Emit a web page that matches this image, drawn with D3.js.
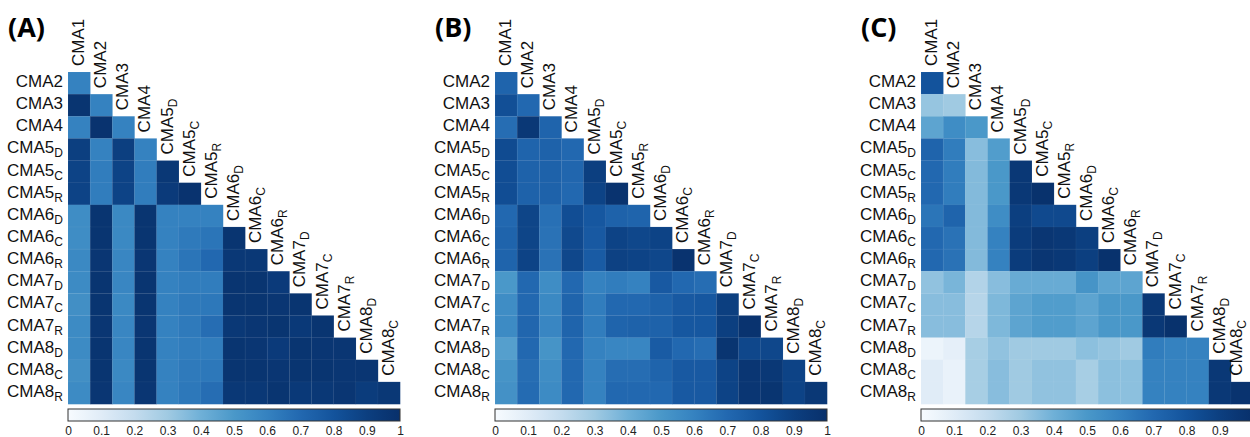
<!DOCTYPE html>
<html>
<head>
<meta charset="utf-8">
<script src="https://cdn.jsdelivr.net/npm/d3@7"></script>
<style>
  body { margin: 0; background: #fff; }
  svg { display: block; }
</style>
</head>
<body>
<div id="chart"></div>
<script>
// ---- datos ----
const labels = ["CMA1", "CMA2", "CMA3", "CMA4", "CMA5D", "CMA5C", "CMA5R",
  "CMA6D", "CMA6C", "CMA6R", "CMA7D", "CMA7C", "CMA7R", "CMA8D", "CMA8C", "CMA8R"];
const rowLabels = labels.slice(1);
const colLabels = labels.slice(0, -1);

const colorTicks = [0, 0.1, 0.2, 0.3, 0.4, 0.5, 0.6, 0.7, 0.8, 0.9, 1];

// fila i = rowLabels[i], columnas 0..i
const valuesA = [
  [0.60],
  [0.97, 0.60],
  [0.60, 0.98, 0.60],
  [0.90, 0.60, 0.90, 0.60],
  [0.88, 0.62, 0.88, 0.62, 0.95],
  [0.88, 0.62, 0.88, 0.62, 0.93, 0.98],
  [0.55, 0.97, 0.57, 0.97, 0.60, 0.60, 0.60],
  [0.55, 0.97, 0.57, 0.97, 0.60, 0.63, 0.65, 0.97],
  [0.57, 0.96, 0.58, 0.96, 0.60, 0.65, 0.70, 0.95, 0.95],
  [0.56, 0.97, 0.58, 0.97, 0.60, 0.62, 0.62, 0.97, 0.97, 0.93],
  [0.54, 0.97, 0.57, 0.97, 0.60, 0.63, 0.64, 0.97, 0.97, 0.96, 0.97],
  [0.56, 0.96, 0.58, 0.96, 0.60, 0.63, 0.68, 0.95, 0.96, 0.97, 0.94, 0.97],
  [0.56, 0.97, 0.58, 0.97, 0.60, 0.62, 0.62, 0.97, 0.96, 0.93, 0.97, 0.96, 0.96],
  [0.54, 0.97, 0.57, 0.97, 0.60, 0.63, 0.64, 0.97, 0.97, 0.96, 0.97, 0.97, 0.96, 0.96],
  [0.56, 0.96, 0.58, 0.96, 0.60, 0.64, 0.68, 0.95, 0.95, 0.97, 0.94, 0.95, 0.96, 0.92, 0.95]
];

const valuesB = [
  [0.72],
  [0.82, 0.70],
  [0.68, 0.95, 0.72],
  [0.84, 0.72, 0.73, 0.70],
  [0.83, 0.73, 0.73, 0.71, 0.90],
  [0.83, 0.73, 0.73, 0.70, 0.88, 0.98],
  [0.70, 0.87, 0.67, 0.83, 0.78, 0.73, 0.72],
  [0.72, 0.87, 0.66, 0.85, 0.77, 0.88, 0.86, 0.88],
  [0.72, 0.88, 0.66, 0.86, 0.76, 0.89, 0.88, 0.86, 0.98],
  [0.50, 0.70, 0.55, 0.70, 0.60, 0.62, 0.60, 0.77, 0.70, 0.68],
  [0.55, 0.70, 0.57, 0.72, 0.62, 0.70, 0.70, 0.73, 0.77, 0.78, 0.90],
  [0.56, 0.71, 0.58, 0.72, 0.62, 0.72, 0.73, 0.73, 0.78, 0.78, 0.90, 0.98],
  [0.47, 0.70, 0.52, 0.70, 0.60, 0.58, 0.58, 0.76, 0.70, 0.68, 0.97, 0.86, 0.86],
  [0.52, 0.68, 0.55, 0.70, 0.60, 0.68, 0.68, 0.72, 0.77, 0.77, 0.88, 0.96, 0.95, 0.88],
  [0.53, 0.69, 0.56, 0.70, 0.60, 0.70, 0.70, 0.70, 0.77, 0.77, 0.88, 0.96, 0.97, 0.88, 0.95]
];

const valuesC = [
  [0.80],
  [0.32, 0.30],
  [0.45, 0.55, 0.50],
  [0.72, 0.62, 0.35, 0.48],
  [0.70, 0.62, 0.36, 0.50, 0.95],
  [0.70, 0.62, 0.36, 0.50, 0.95, 0.99],
  [0.65, 0.72, 0.36, 0.55, 0.90, 0.85, 0.85],
  [0.70, 0.66, 0.36, 0.60, 0.92, 0.96, 0.95, 0.90],
  [0.70, 0.66, 0.36, 0.60, 0.92, 0.96, 0.95, 0.90, 0.99],
  [0.33, 0.38, 0.25, 0.35, 0.42, 0.42, 0.42, 0.52, 0.45, 0.45],
  [0.35, 0.35, 0.24, 0.37, 0.45, 0.48, 0.48, 0.45, 0.50, 0.50, 0.95],
  [0.35, 0.35, 0.24, 0.37, 0.45, 0.48, 0.48, 0.45, 0.50, 0.50, 0.95, 0.99],
  [0.05, 0.08, 0.28, 0.33, 0.30, 0.30, 0.30, 0.34, 0.32, 0.30, 0.62, 0.60, 0.60],
  [0.10, 0.06, 0.28, 0.35, 0.30, 0.33, 0.33, 0.28, 0.34, 0.34, 0.60, 0.60, 0.60, 0.95],
  [0.10, 0.06, 0.28, 0.35, 0.30, 0.33, 0.33, 0.28, 0.34, 0.34, 0.60, 0.60, 0.60, 0.95, 0.98]
];

const panels = [
  { tag: "(A)", values: valuesA, x0: 68, tagX: 8 },
  { tag: "(B)", values: valuesB, x0: 495, tagX: 435 },
  { tag: "(C)", values: valuesC, x0: 921, tagX: 861 }
];

// ---- configuración ----
const width = 1250, height = 437;
const top0 = 72, size = 332;
const font = "'Liberation Sans', Arial, sans-serif";

const color = d3.scaleLinear()
  .domain([0, 0.1, 0.2, 0.3, 0.4, 0.5, 0.6, 0.7, 0.8, 0.9, 1])
  .range(["#f7fbff", "#e0ecf7", "#c4dcee", "#a0cae2", "#6fb0d7", "#4a98c9",
          "#3582c0", "#2268b0", "#13539c", "#0c3f80", "#08306b"])
  .clamp(true);

const svg = d3.select("#chart").append("svg")
  .attr("width", width)
  .attr("height", height);

const x = d3.scaleBand().domain(colLabels).range([0, size]);
const y = d3.scaleBand().domain(rowLabels).range([0, size]);

// etiqueta con subíndice
function addLabel(sel, name) {
  const m = name.match(/^(CMA\d)([DCR]?)$/);
  sel.append("tspan").text(m[1]);
  if (m[2]) {
    sel.append("tspan").attr("dy", 4).attr("font-size", 12).text(m[2]);
  }
}

// gradiente de la barra de color
const defs = svg.append("defs");
const grad = defs.append("linearGradient").attr("id", "cbar")
  .attr("x1", "0%").attr("x2", "100%").attr("y1", "0%").attr("y2", "0%");
d3.range(0, 1.0001, 0.05).forEach(t => {
  grad.append("stop").attr("offset", (t * 100) + "%").attr("stop-color", color(t));
});

panels.forEach(p => {
  const g = svg.append("g").attr("transform", `translate(${p.x0},${top0})`);

  // celdas
  const cells = [];
  p.values.forEach((row, i) => row.forEach((v, j) => cells.push({ r: rowLabels[i], c: colLabels[j], v })));
  g.selectAll("rect.cell")
    .data(cells)
    .join("rect")
    .attr("class", "cell")
    .attr("x", d => x(d.c))
    .attr("y", d => y(d.r))
    .attr("width", x.bandwidth() + 0.3)
    .attr("height", y.bandwidth() + 0.3)
    .attr("fill", d => color(d.v))
    .attr("stroke", "rgba(255,255,255,0.08)")
    .attr("stroke-width", 0.6);

  // etiquetas de filas
  g.selectAll("text.row")
    .data(rowLabels)
    .join("text")
    .attr("class", "row")
    .attr("x", -5)
    .attr("y", d => y(d) + y.bandwidth() / 2 + 4)
    .attr("text-anchor", "end")
    .attr("font-family", font)
    .attr("font-size", 17)
    .attr("fill", "#111")
    .each(function (d) { addLabel(d3.select(this), d); });

  // etiquetas de columnas (giradas); se acercan si salen del borde
  g.selectAll("text.col")
    .data(colLabels)
    .join("text")
    .attr("class", "col")
    .attr("font-family", font)
    .attr("font-size", 17)
    .attr("fill", "#111")
    .each(function (d) { addLabel(d3.select(this), d); })
    .attr("transform", function (d, j) {
      let cxp = x(d) + x.bandwidth() / 2 + 5;
      const h = this.getBBox().height;
      const over = p.x0 + cxp + (h - 15) - (width - 1);
      if (over > 0) cxp -= over;
      return `translate(${cxp},${y(rowLabels[j]) - 6}) rotate(-90)`;
    });

  // barra de color
  const cb = svg.append("g").attr("transform", `translate(${p.x0},409)`);
  cb.append("rect")
    .attr("width", size)
    .attr("height", 12)
    .attr("fill", "url(#cbar)")
    .attr("stroke", "#333")
    .attr("stroke-width", 1);

  // solo las marcas que caben en la imagen
  const cx = d3.scaleLinear().domain([0, 1]).range([0, size]);
  const ticks = colorTicks.filter(t => p.x0 + cx(t) + 4 < width);
  const axis = cb.append("g")
    .attr("transform", "translate(0,12)")
    .call(d3.axisBottom(cx).tickValues(ticks).tickFormat(d3.format("~g")).tickSize(0).tickPadding(5));
  axis.select(".domain").remove();
  axis.selectAll("text")
    .attr("font-family", font)
    .attr("font-size", 12)
    .attr("fill", "#222");

  // letra del panel
  svg.append("text")
    .attr("x", p.tagX)
    .attr("y", 37)
    .attr("font-family", "'Open Sans', 'Noto Sans', sans-serif")
    .attr("font-weight", 700)
    .attr("font-size", 27)
    .attr("fill", "#000")
    .text(p.tag);
});
</script>
</body>
</html>
